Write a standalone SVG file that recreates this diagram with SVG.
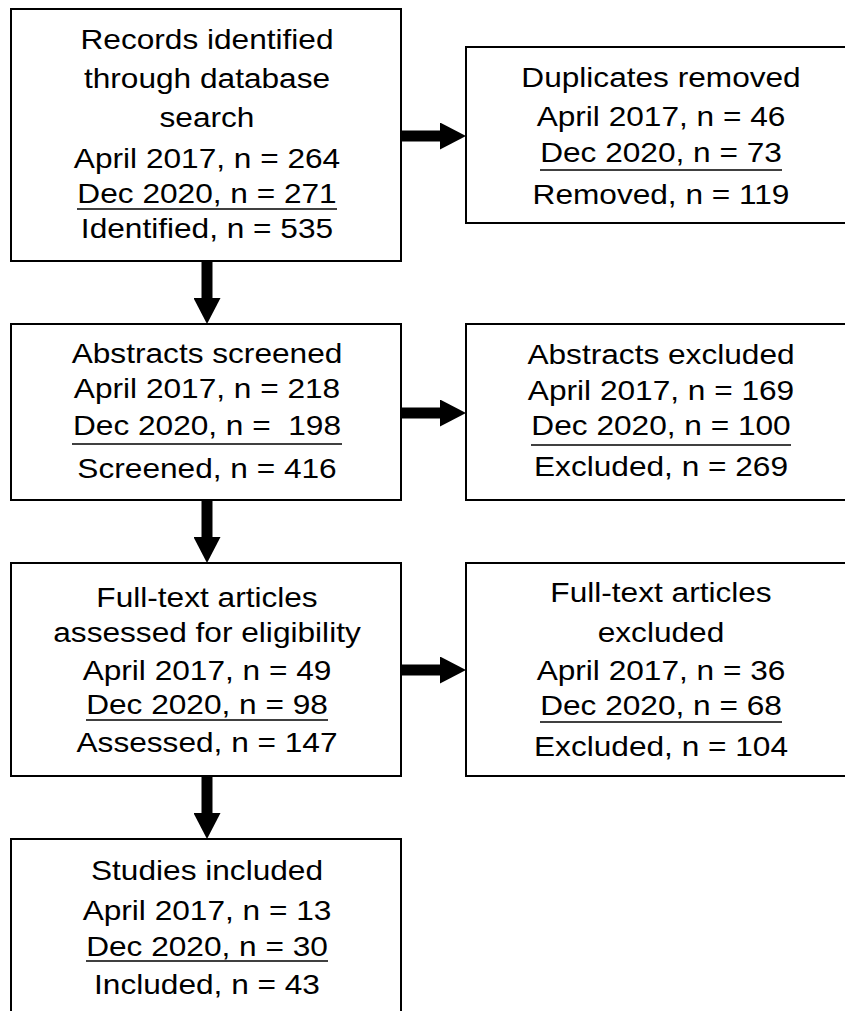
<svg xmlns="http://www.w3.org/2000/svg" width="845" height="1011" viewBox="0 0 845 1011">
<defs>
<style>
.box{fill:#fff;stroke:#000;stroke-width:2}
.t{font-family:"Liberation Sans",Arial,sans-serif;font-size:27.5px;fill:#000;text-anchor:middle}
.ul{stroke:#000;stroke-width:1.6}
.conn{stroke:#000;stroke-width:11;fill:none}
</style>
<marker id="ah" markerUnits="userSpaceOnUse" markerWidth="26" markerHeight="27" refX="0" refY="13.5" orient="auto" viewBox="0 0 26 27">
<path d="M0,0 L26,13.5 L0,27 z" fill="#000"/>
</marker>
</defs>
<rect width="845" height="1011" fill="#fff"/>
<g id="connectors">
<line class="conn" x1="207" y1="262" x2="207" y2="298" marker-end="url(#ah)"/>
<line class="conn" x1="207" y1="501" x2="207" y2="537" marker-end="url(#ah)"/>
<line class="conn" x1="207" y1="777" x2="207" y2="813" marker-end="url(#ah)"/>
<line class="conn" x1="402" y1="136" x2="440" y2="136" marker-end="url(#ah)"/>
<line class="conn" x1="402" y1="413" x2="440" y2="413" marker-end="url(#ah)"/>
<line class="conn" x1="402" y1="670" x2="440" y2="670" marker-end="url(#ah)"/>
</g>
<g id="records">
<rect class="box" x="11" y="9" width="390" height="252"/>
<text class="t" transform="translate(207,49) scale(1.15,1)">Records identified</text>
<text class="t" transform="translate(207,88) scale(1.15,1)">through database</text>
<text class="t" transform="translate(207,127) scale(1.15,1)">search</text>
<text class="t" transform="translate(207,168) scale(1.15,1)">April 2017, n = 264</text>
<text class="t" transform="translate(207,203) scale(1.15,1)">Dec 2020, n = 271</text>
<line class="ul" x1="77" y1="209" x2="337" y2="209"/>
<text class="t" transform="translate(207,238) scale(1.15,1)">Identified, n = 535</text>
</g>
<g id="duplicates">
<rect class="box" x="466" y="47" width="390" height="176"/>
<text class="t" transform="translate(661,87) scale(1.15,1)">Duplicates removed</text>
<text class="t" transform="translate(661,126) scale(1.15,1)">April 2017, n = 46</text>
<text class="t" transform="translate(661,162) scale(1.15,1)">Dec 2020, n = 73</text>
<line class="ul" x1="540" y1="170" x2="782" y2="170"/>
<text class="t" transform="translate(661,204) scale(1.15,1)">Removed, n = 119</text>
</g>
<g id="screened">
<rect class="box" x="11" y="324" width="390" height="176"/>
<text class="t" transform="translate(207,363) scale(1.15,1)">Abstracts screened</text>
<text class="t" transform="translate(207,398) scale(1.15,1)">April 2017, n = 218</text>
<text class="t" transform="translate(207,435) scale(1.15,1)" style="white-space:pre">Dec 2020, n =  198</text>
<line class="ul" x1="72" y1="444" x2="342" y2="444"/>
<text class="t" transform="translate(207,478) scale(1.15,1)">Screened, n = 416</text>
</g>
<g id="abstracts-excluded">
<rect class="box" x="466" y="324" width="390" height="176"/>
<text class="t" transform="translate(661,364) scale(1.15,1)">Abstracts excluded</text>
<text class="t" transform="translate(661,400) scale(1.15,1)">April 2017, n = 169</text>
<text class="t" transform="translate(661,435) scale(1.15,1)">Dec 2020, n = 100</text>
<line class="ul" x1="531" y1="445" x2="791" y2="445"/>
<text class="t" transform="translate(661,476) scale(1.15,1)">Excluded, n = 269</text>
</g>
<g id="assessed">
<rect class="box" x="11" y="563" width="390" height="213"/>
<text class="t" transform="translate(207,607) scale(1.15,1)">Full-text articles</text>
<text class="t" transform="translate(207,642) scale(1.15,1)">assessed for eligibility</text>
<text class="t" transform="translate(207,680) scale(1.15,1)">April 2017, n = 49</text>
<text class="t" transform="translate(207,714) scale(1.15,1)">Dec 2020, n = 98</text>
<line class="ul" x1="86" y1="720" x2="328" y2="720"/>
<text class="t" transform="translate(207,752) scale(1.15,1)">Assessed, n = 147</text>
</g>
<g id="fulltext-excluded">
<rect class="box" x="466" y="563" width="390" height="213"/>
<text class="t" transform="translate(661,602) scale(1.15,1)">Full-text articles</text>
<text class="t" transform="translate(661,642) scale(1.15,1)">excluded</text>
<text class="t" transform="translate(661,680) scale(1.15,1)">April 2017, n = 36</text>
<text class="t" transform="translate(661,715) scale(1.15,1)">Dec 2020, n = 68</text>
<line class="ul" x1="540" y1="722" x2="782" y2="722"/>
<text class="t" transform="translate(661,756) scale(1.15,1)">Excluded, n = 104</text>
</g>
<g id="included">
<rect class="box" x="11" y="839" width="390" height="200"/>
<text class="t" transform="translate(207,880) scale(1.15,1)">Studies included</text>
<text class="t" transform="translate(207,920) scale(1.15,1)">April 2017, n = 13</text>
<text class="t" transform="translate(207,956) scale(1.15,1)">Dec 2020, n = 30</text>
<line class="ul" x1="86" y1="961" x2="328" y2="961"/>
<text class="t" transform="translate(207,994) scale(1.15,1)">Included, n = 43</text>
</g>
</svg>
